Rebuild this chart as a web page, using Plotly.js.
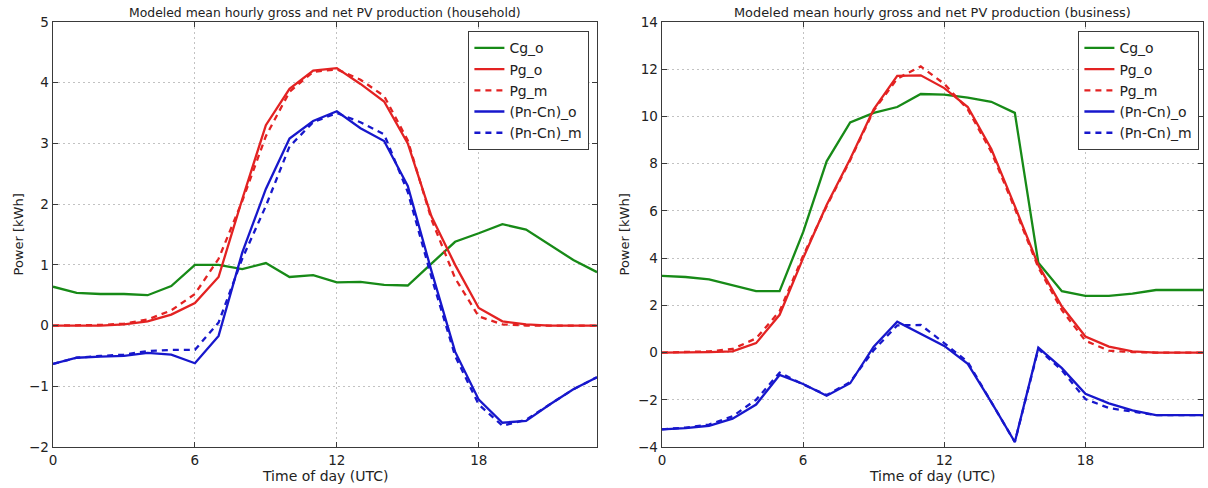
<!DOCTYPE html>
<html>
<head>
<meta charset="utf-8">
<script src="https://cdn.plot.ly/plotly-3.0.1.min.js"></script>
<style>html,body{margin:0;padding:0;background:#fff;}#chart{width:1208px;height:488px;}</style>
</head>
<body>
<div id="chart"></div>
<script>
// ---- data ----
var hours = [0,1,2,3,4,5,6,7,8,9,10,11,12,13,14,15,16,17,18,19,20,21,22,23];

// household
var hhCgO  = [0.64,0.54,0.52,0.52,0.50,0.65,1.00,1.00,0.93,1.03,0.80,0.83,0.71,0.72,0.67,0.66,1.02,1.38,1.52,1.67,1.58,1.33,1.08,0.88];
var hhPgO  = [0,0,0,0.02,0.07,0.18,0.37,0.80,2.08,3.30,3.90,4.20,4.24,3.98,3.69,3.00,1.80,1.00,0.29,0.07,0.02,0,0,0];
var hhPgM  = [0,0,0.01,0.03,0.10,0.25,0.52,1.10,2.05,3.12,3.85,4.18,4.22,4.05,3.78,3.05,1.75,0.78,0.15,0.02,0,0,0,0];
var hhNetO = [-0.63,-0.53,-0.51,-0.50,-0.45,-0.48,-0.62,-0.17,1.20,2.25,3.08,3.37,3.53,3.25,3.04,2.30,0.90,-0.43,-1.22,-1.60,-1.57,-1.30,-1.05,-0.85];
var hhNetM = [-0.63,-0.53,-0.50,-0.48,-0.42,-0.40,-0.40,0.05,1.10,1.97,2.95,3.35,3.50,3.35,3.15,2.20,0.80,-0.50,-1.30,-1.65,-1.55,-1.30,-1.05,-0.85];

// business
var bzCgO  = [3.25,3.20,3.10,2.85,2.60,2.60,5.10,8.10,9.75,10.15,10.40,10.95,10.92,10.80,10.62,10.15,3.80,2.60,2.40,2.40,2.50,2.65,2.65,2.65];
var bzPgO  = [0,0,0.02,0.05,0.40,1.60,4.00,6.25,8.20,10.30,11.72,11.74,11.20,10.40,8.62,6.20,3.70,1.95,0.68,0.25,0.05,0,0,0];
var bzPgM  = [0,0.02,0.05,0.15,0.60,1.75,4.10,6.20,8.15,10.25,11.60,12.12,11.38,10.30,8.50,6.10,3.60,1.80,0.50,0.08,0.02,0,0,0];
var bzNetO = [-3.25,-3.20,-3.10,-2.80,-2.20,-0.95,-1.33,-1.83,-1.30,0.25,1.31,0.80,0.28,-0.48,-2.10,-3.79,0.21,-0.66,-1.75,-2.15,-2.45,-2.65,-2.65,-2.65];
var bzNetM = [-3.25,-3.18,-3.05,-2.70,-2.00,-0.85,-1.35,-1.80,-1.25,0.10,1.15,1.17,0.40,-0.40,-2.10,-3.79,0.15,-0.75,-1.97,-2.35,-2.50,-2.65,-2.65,-2.65];

var names = ['Cg_o','Pg_o','Pg_m','(Pn-Cn)_o','(Pn-Cn)_m'];
var xTicks = [0,6,12,18];
var titles = ['Modeled mean hourly gross and net PV production (household)',
              'Modeled mean hourly gross and net PV production (business)'];

// ---- styles ----
var GREEN = '#178a17', RED = '#e32222', BLUE = '#1717cc';
var colors = [GREEN, RED, RED, BLUE, BLUE];
var dashes = ['solid','solid','6px,5px','solid','6px,5px'];

function mk(y, i, xa, ya, leg) {
  return {x: hours, y: y, name: names[i], type: 'scatter', mode: 'lines',
    xaxis: xa, yaxis: ya, legend: leg,
    line: {color: colors[i], width: 2.3, dash: dashes[i]}};
}
var traces = [];
[hhCgO, hhPgO, hhPgM, hhNetO, hhNetM].forEach(function (s, i) { traces.push(mk(s, i, 'x', 'y', 'legend')); });
[bzCgO, bzPgO, bzPgM, bzNetO, bzNetM].forEach(function (s, i) { traces.push(mk(s, i, 'x2', 'y2', 'legend2')); });

var FRAME = '#3a3a3a';
var GRID = '#c2c2c2', GRIDDASH = '2px,3px';
function xax(dom, anchor) {
  return {domain: dom, anchor: anchor, range: [0, 23], tickvals: xTicks, ticktext: xTicks.map(String),
    showgrid: true, gridcolor: GRID, griddash: GRIDDASH, gridwidth: 1, zeroline: false,
    showline: true, mirror: 'ticks', linecolor: FRAME, linewidth: 1.4,
    ticks: 'inside', ticklen: 5, tickcolor: FRAME, tickwidth: 1,
    tickfont: {size: 13.5, color: '#222'}, fixedrange: true};
}
function yax(rng, dt, anchor) {
  return {anchor: anchor, domain: [0, 1], range: rng, dtick: dt, tick0: 0,
    showgrid: true, gridcolor: GRID, griddash: GRIDDASH, gridwidth: 1, zeroline: false,
    showline: true, mirror: 'ticks', linecolor: FRAME, linewidth: 1.4,
    ticks: 'inside', ticklen: 5, tickcolor: FRAME, tickwidth: 1,
    tickfont: {size: 13.5, color: '#222'}, fixedrange: true};
}
function leg(x) {
  return {x: x, y: 0.979, xanchor: 'right', yanchor: 'top', bgcolor: '#fff',
    bordercolor: FRAME, borderwidth: 1.4, font: {size: 14, color: '#222'}, tracegroupgap: 0};
}

var W = 1208;
var d1 = [53 / W, 597 / W], d2 = [662 / W, 1203 / W];
var layout = {
  width: 1208, height: 488, margin: {l: 0, r: 0, t: 22, b: 41},
  paper_bgcolor: '#fff', plot_bgcolor: '#fff',
  font: {family: 'DejaVu Sans', color: '#222'},
  showlegend: true,
  xaxis: xax(d1, 'y'), yaxis: yax([-2, 5], 1, 'x'),
  xaxis2: xax(d2, 'y2'), yaxis2: yax([-4, 14], 2, 'x2'),
  legend: leg(589 / W), legend2: leg(1199 / W),
  annotations: [
    {text: titles[0], xref: 'paper', yref: 'paper', x: (d1[0] + d1[1]) / 2, y: 1.0235, xanchor: 'center', yanchor: 'middle', showarrow: false, font: {size: 12.4, color: '#222'}},
    {text: titles[1], xref: 'paper', yref: 'paper', x: (d2[0] + d2[1]) / 2, y: 1.0235, xanchor: 'center', yanchor: 'middle', showarrow: false, font: {size: 12.9, color: '#222'}},
    {text: 'Time of day (UTC)', xref: 'paper', yref: 'paper', x: (d1[0] + d1[1]) / 2, y: -0.068, xanchor: 'center', yanchor: 'middle', showarrow: false, font: {size: 14, color: '#222'}},
    {text: 'Time of day (UTC)', xref: 'paper', yref: 'paper', x: (d2[0] + d2[1]) / 2, y: -0.068, xanchor: 'center', yanchor: 'middle', showarrow: false, font: {size: 14, color: '#222'}},
    {text: 'Power [kWh]', xref: 'paper', yref: 'paper', x: 18 / W, y: 0.5, xanchor: 'center', yanchor: 'middle', textangle: -90, showarrow: false, font: {size: 13, color: '#222'}},
    {text: 'Power [kWh]', xref: 'paper', yref: 'paper', x: 624 / W, y: 0.5, xanchor: 'center', yanchor: 'middle', textangle: -90, showarrow: false, font: {size: 13, color: '#222'}}
  ]
};

Plotly.newPlot('chart', traces, layout, {displayModeBar: false, staticPlot: true});
</script>
</body>
</html>
